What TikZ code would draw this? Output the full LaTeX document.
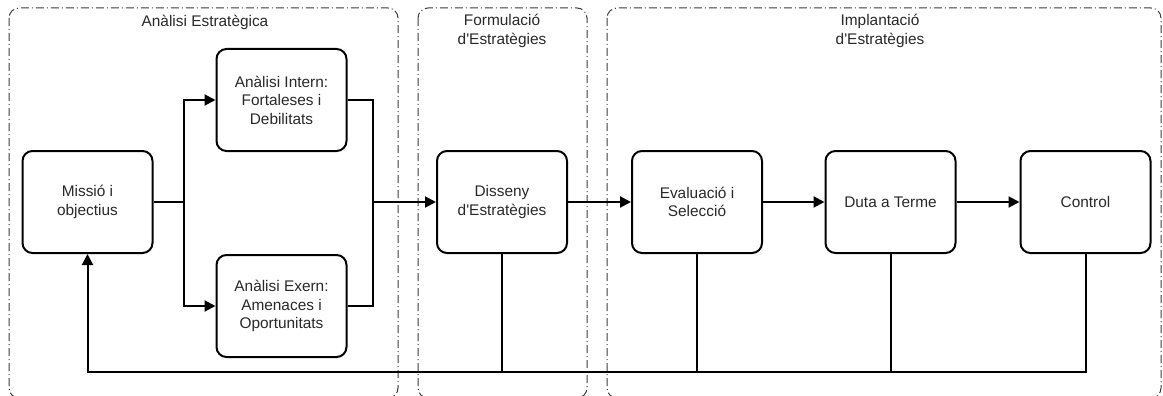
\documentclass[tikz,border=0pt]{standalone}
\usepackage{fontspec}
\setmainfont{Liberation Sans}
\usetikzlibrary{arrows.meta}

\definecolor{txt}{RGB}{40,40,40}
\definecolor{frm}{RGB}{60,60,60}

\begin{document}
\begin{tikzpicture}[x=1pt,y=-1pt,
    font=\fontsize{15.4}{18.5}\selectfont,text=txt,
    box/.style={draw,line width=2pt,rounded corners=10pt,minimum width=130pt,
        minimum height=102pt,align=center,inner sep=2pt},
    phase/.style={draw=frm,line width=1pt,rounded corners=10pt,
        dash pattern=on 8pt off 3pt on 1pt off 3pt},
    title/.style={align=center,inner sep=0pt},
    link/.style={line width=2pt},
    arr/.style={link,-{Triangle[length=11pt,width=11pt]}}]
    \useasboundingbox (0,0) rectangle (1163,396);
    %
    \draw[phase] (9,8) rectangle (398,398);
    \draw[phase] (418,8) rectangle (587,398);
    \draw[phase] (607,8) rectangle (1161,398);
    \node[title] (tanal) at (205,22) {Anàlisi Estratègica};
    \node[title] (tform) at (502,31) {Formulació\\d\textquotesingle Estratègies};
    \node[title] (timpl) at (880,31) {Implantació\\d\textquotesingle Estratègies};
    %
    \node[box] (mis) at (87.5,202) {Missió i\\objectius};
    \node[box] (intern) at (281.5,100) {Anàlisi Intern:\\Fortaleses i\\Debilitats};
    \node[box] (extern) at (281.5,306) {Anàlisi Exern:\\Amenaces i\\Oportunitats};
    \node[box] (disseny) at (502,202) {Disseny\\d\textquotesingle Estratègies};
    \node[box] (aval) at (697,202) {Evaluació i\\Selecció};
    \node[box] (duta) at (890.5,202) {Duta a Terme};
    \node[box] (control) at (1085.5,202) {Control};
    %
    \coordinate (ja) at (184,202);
    \coordinate (jb) at (373,202);
    \coordinate (fb) at (0,372);
    %
    \draw[link] (mis.east) -- (ja);
    \draw[arr] (ja) |- (intern.west);
    \draw[arr] (ja) |- (extern.west);
    \draw[link] (intern.east) -| (jb);
    \draw[link] (extern.east) -| (jb);
    \draw[arr] (jb) -- (disseny.west);
    \draw[arr] (disseny) -- (aval);
    \draw[arr] (aval) -- (duta);
    \draw[arr] (duta) -- (control);
    %
    \foreach \n in {disseny,aval,duta}
        \draw[link] (\n.south) -- (\n.south |- fb);
    \draw[arr] (control.south) -- (control.south |- fb) -| (mis.south);
    %
\end{tikzpicture}
\end{document}
